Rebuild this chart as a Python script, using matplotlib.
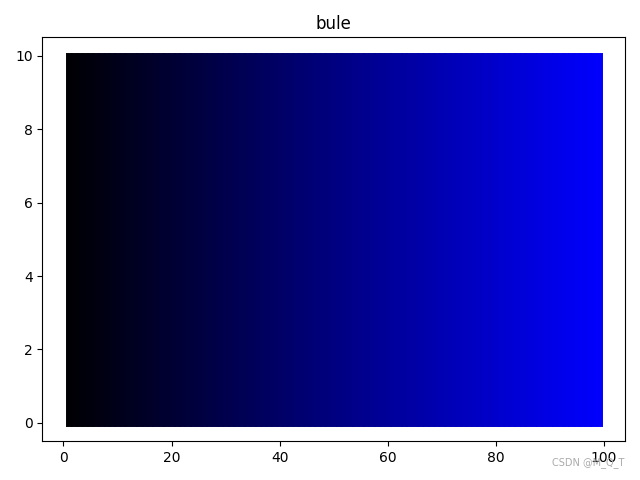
import numpy as np
import matplotlib
matplotlib.use('Agg')
import matplotlib.pyplot as plt

# one vertical stroke per position, blue channel rising left to right
xs = np.arange(1, 100)
blue = xs / 100
y_low = 0
y_high = 10
title = 'bule'

fig = plt.figure(figsize=(6.4, 4.8), dpi=100)
for x, b in zip(xs, blue):
    plt.plot([x, x], [y_low, y_high], color=(0, 0, b), linewidth=5)
plt.title(title)
plt.tight_layout()
fig.text(0.976, 0.025, 'CSDN @M_Q_T', ha='right', va='bottom', fontsize=7, color='#aaaaaa')
plt.savefig('out.png')
